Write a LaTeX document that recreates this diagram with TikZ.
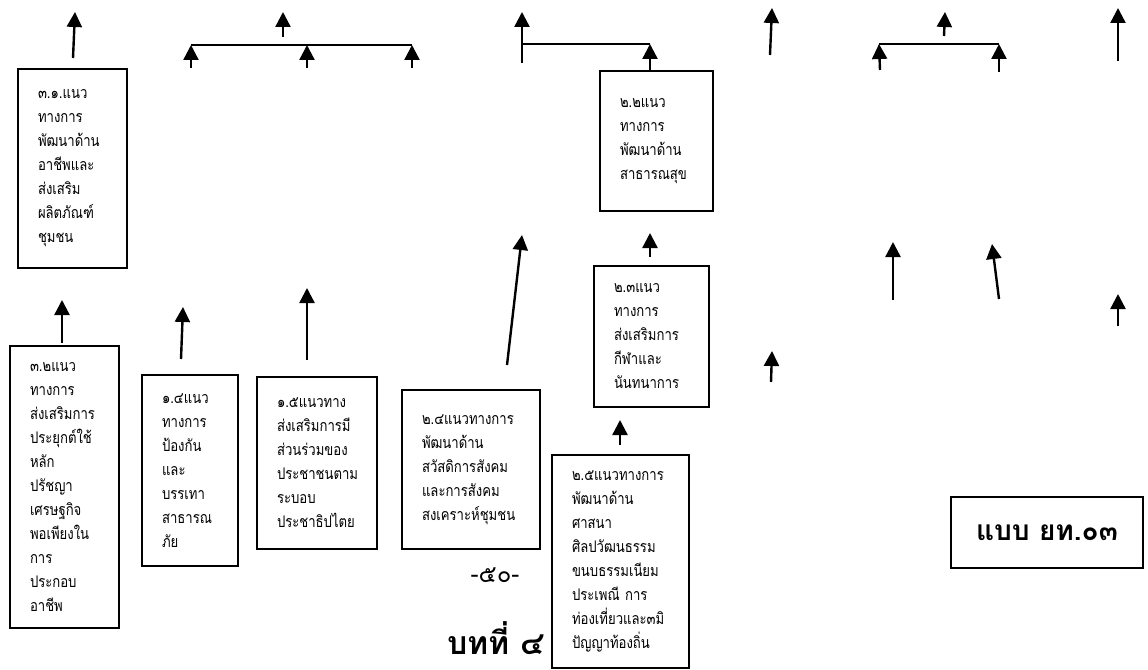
\documentclass[tikz,border=0pt]{standalone}
\usepackage{fontspec}
\newfontfamily\thaifont[Script=Thai, FakeStretch=0.82]{Loma}
\newfontfamily\thaiwide[Script=Thai]{Loma}
\usepackage{tikz}
\usetikzlibrary{arrows.meta}
\tikzset{box/.style = {draw=black, line width=2pt, anchor=north west, align=left,
    inner xsep=20pt, inner ysep=0pt, font=\thaifont\fontsize{16}{24}\selectfont}}
\tikzset{arrow/.style = {line width=2.4pt, -{Triangle[length=15pt, width=15pt]}}}
\tikzset{bar/.style = {line width=2pt}}

\begin{document}
\begin{tikzpicture}[x=1pt, y=-1pt]
        \useasboundingbox (0,0) rectangle (1148,669);

        \begin{scope}
            \node [box, text width=69pt, minimum width=109pt, minimum height=199pt] (b31) at (17,68)
                {๓.๑.แนว\\ทางการ\\พัฒนาด้าน\\อาชีพและ\\ส่งเสริม\\ผลิตภัณฑ์\\ชุมชน};
            \node [box, text width=69pt, minimum width=109pt, minimum height=282pt] (b32) at (9,345)
                {๓.๒แนว\\ทางการ\\ส่งเสริมการ\\ประยุกต์ใช้\\หลัก\\ปรัชญา\\เศรษฐกิจ\\พอเพียงใน\\การ\\ประกอบ\\อาชีพ};
            \node [box, text width=56pt, minimum width=96pt, minimum height=191pt] (b14) at (141,374)
                {๑.๔แนว\\ทางการ\\ป้องกัน\\และ\\บรรเทา\\สาธารณ\\ภัย};
            \node [box, text width=80pt, minimum width=120pt, minimum height=172pt] (b15) at (256,376)
                {๑.๕แนวทาง\\ส่งเสริมการมี\\ส่วนร่วมของ\\ประชาชนตาม\\ระบอบ\\ประชาธิปไตย};
            \node [box, text width=98pt, minimum width=138pt, minimum height=159pt] (b24) at (401,389)
                {๒.๔แนวทางการ\\พัฒนาด้าน\\สวัสดิการสังคม\\และการสังคม\\สงเคราะห์ชุมชน};
            \node [box, text width=73pt, minimum width=113pt, minimum height=140pt] (b22) at (599,70)
                {๒.๒แนว\\ทางการ\\พัฒนาด้าน\\สาธารณสุข};
            \node [box, text width=75pt, minimum width=115pt, minimum height=141pt] (b23) at (593,265)
                {๒.๓แนว\\ทางการ\\ส่งเสริมการ\\กีฬาและ\\นันทนาการ};
            \node [box, text width=97pt, minimum width=137pt, minimum height=213pt] (b25) at (551,454)
                {๒.๕แนวทางการ\\พัฒนาด้าน\\ศาสนา\\ศิลปวัฒนธรรม\\ขนบธรรมเนียม\\ประเพณี การ\\ท่องเที่ยวและ๓มิ\\ปัญญาท้องถิ่น};

            \node [draw=black, line width=2pt, anchor=north west, minimum width=192pt, minimum height=71pt,
                font=\thaiwide\bfseries\fontsize{28}{30}\selectfont] (form) at (950,496) {แบบ ยท.๐๓};
            \node [font=\thaiwide\fontsize{24}{26}\selectfont] (page) at (495,575) {-๕๐-};
            \node [anchor=base, inner sep=0pt, font=\thaiwide\bfseries\fontsize{32}{34}\selectfont] (chap) at (496,654) {บทที่ ๔};
        \end{scope}

        \begin{scope}
            \coordinate (k1l) at (191,45);
            \coordinate (k1m) at (307,45);
            \coordinate (k1r) at (412,45);
            \coordinate (k2l) at (522,44);
            \coordinate (k2r) at (650,44);
            \coordinate (k3l) at (879,44);
            \coordinate (k3r) at (999,44);

            \draw [bar] (k1l) -- (k1r);
            \draw [bar] (k2l) -- (k2r);
            \draw [bar] (k3l) -- (k3r);

            \draw [arrow] (191,68) coordinate (s1l) -- (k1l);
            \draw [arrow] (307,68) coordinate (s1m) -- (k1m);
            \draw [arrow] (412,68) coordinate (s1r) -- (k1r);
            \draw [arrow] (b22.north -| k2r) -- (k2r);
            \draw [arrow] (880,70) coordinate (s3l) -- (k3l);
            \draw [arrow] (999,72) coordinate (s3r) -- (k3r);
        \end{scope}

        \begin{scope}
            \coordinate (u31s) at (73,58);    \coordinate (u31t) at (75,12);
            \coordinate (u1s)  at (283,37);   \coordinate (u1t)  at (283,12);
            \coordinate (u2s)  at (522,63);   \coordinate (u2t)  at (522,12);
            \coordinate (u4s)  at (770,55);   \coordinate (u4t)  at (772,8);
            \coordinate (u3s)  at (944,36);   \coordinate (u3t)  at (945,12);
            \coordinate (u6s)  at (1118,61);  \coordinate (u6t)  at (1118,8);

            \coordinate (m24s) at (507,365);  \coordinate (m24t) at (522,235);
            \coordinate (m23s) at (650,257);  \coordinate (m23t) at (650,233);
            \coordinate (m5s)  at (893,300);  \coordinate (m5t)  at (893,242);
            \coordinate (m6s)  at (999,299);  \coordinate (m6t)  at (992,244);
            \coordinate (m7s)  at (1118,326); \coordinate (m7t)  at (1118,294);
            \coordinate (m4s)  at (771,382);  \coordinate (m4t)  at (772,351);

            \coordinate (d32s) at (62,343);   \coordinate (d32t) at (62,300);
            \coordinate (d14s) at (181,359);  \coordinate (d14t) at (183,307);
            \coordinate (d15s) at (307,360);  \coordinate (d15t) at (307,288);
            \coordinate (d25s) at (620,445);  \coordinate (d25t) at (620,420);

            \draw [arrow] (u31s) -- (u31t);
            \draw [arrow] (u1s) -- (u1t);
            \draw [arrow] (u2s) -- (u2t);
            \draw [arrow] (u4s) -- (u4t);
            \draw [arrow] (u3s) -- (u3t);
            \draw [arrow] (u6s) -- (u6t);

            \draw [arrow] (m24s) -- (m24t);
            \draw [arrow] (m23s) -- (m23t);
            \draw [arrow] (m5s) -- (m5t);
            \draw [arrow] (m6s) -- (m6t);
            \draw [arrow] (m7s) -- (m7t);
            \draw [arrow] (m4s) -- (m4t);

            \draw [arrow] (d32s) -- (d32t);
            \draw [arrow] (d14s) -- (d14t);
            \draw [arrow] (d15s) -- (d15t);
            \draw [arrow] (d25s) -- (d25t);
        \end{scope}
    \end{tikzpicture}
\end{document}
